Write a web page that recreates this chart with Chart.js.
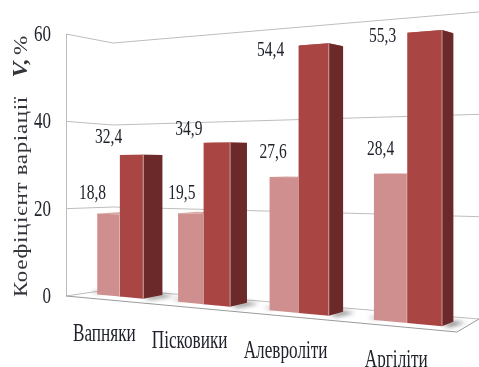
<!DOCTYPE html>
<html lang="uk">
<head>
<meta charset="utf-8">
<title>Коефіцієнт варіації</title>
<script src="https://cdn.jsdelivr.net/npm/chart.js@4"></script>
<style>
  html, body { margin: 0; padding: 0; background: #fff; }
  canvas { display: block; }
</style>
</head>
<body>
<canvas id="chart" width="479" height="367"></canvas>
<script>
// Chart values
const rockTypes = ['Вапняки', 'Пісковики', 'Алевроліти', 'Аргіліти'];
const lowerSeries = [18.8, 19.5, 27.6, 28.4];
const upperSeries = [32.4, 34.9, 54.4, 55.3];
const yTickStep = 20;
const yMax = 60;

// Hand-placed value label offsets from the top centre of each bar, in pixels
const lowerLabelShift = [[-16, -21], [-9, -20], [-11, -25], [-10, -24]];
const upperLabelShift = [[-23, -17], [-28, -13], [-43, 6], [-42, 5]];
const categoryLabelShift = [[-15.5, 38], [-14, 37], [-13, 39], [-11, 38]];

const TEXT = '#20232c';
const SERIF = '"Liberation Serif", "Times New Roman", serif';

// Perspective of the 3D scene
const VANISH = { x: 880, y: 157 };
const BAR_DEPTH = 0.026;
const perspX = u => (278.5 * u + 81.6) / (1 - 0.23 * u);
const barBaseY = x => 297.5 + 0.0925 * (x - 131);
const barUnit = x => 4.40 + 0.00308 * (x - 131);
const barPoint = (x, v) => ({ x, y: barBaseY(x) - v * barUnit(x) });
const intoDepth = (p, f) => ({ x: p.x + f * (VANISH.x - p.x), y: p.y + f * (VANISH.y - p.y) });

// Back wall of the box
const wallY = (x, v) => {
  const t = (x - 113) / 366;
  return (289 + 30 * t) - v * (4.1 + 1.017 * t);
};

function poly(ctx, pts, fill) {
  ctx.beginPath();
  pts.forEach((p, i) => i ? ctx.lineTo(p.x, p.y) : ctx.moveTo(p.x, p.y));
  ctx.closePath();
  ctx.fillStyle = fill;
  ctx.fill();
}

function stretchedText(ctx, text, x, y, size, stretch, align) {
  ctx.save();
  ctx.translate(x, y);
  ctx.scale(1, stretch);
  ctx.font = size + 'px ' + SERIF;
  ctx.fillStyle = TEXT;
  ctx.textAlign = align || 'center';
  ctx.textBaseline = 'middle';
  ctx.fillText(text, 0, 0);
  ctx.restore();
}

// Geometry of one bar element, projected into the scene
function barFaces(chart, bar) {
  const area = chart.chartArea;
  const props = bar.getProps(['x', 'y', 'width']);
  const value = chart.scales.y.getValueForPixel(props.y);
  const span = area.right - area.left;
  const x0 = perspX((props.x - props.width / 2 - area.left) / span);
  const x1 = perspX((props.x + props.width / 2 - area.left) / span);
  return {
    bl: barPoint(x0, 0), br: barPoint(x1, 0),
    tl: barPoint(x0, value), tr: barPoint(x1, value)
  };
}

function drawBars(chart, index) {
  const { ctx } = chart;
  const ds = chart.data.datasets[index];
  chart.getDatasetMeta(index).data.forEach(bar => {
    const f = barFaces(chart, bar);
    const backT = intoDepth(f.tr, BAR_DEPTH);
    const backB = intoDepth(f.br, BAR_DEPTH);
    const backL = intoDepth(f.tl, BAR_DEPTH);
    poly(ctx, [f.tl, f.tr, backT, backL], ds.topColor);
    poly(ctx, [f.tr, backT, backB, f.br], ds.sideColor);
    poly(ctx, [f.tl, f.tr, f.br, f.bl], ds.backgroundColor);
    ctx.save();
    ctx.strokeStyle = ds.edgeColor;
    ctx.lineWidth = 1;
    ctx.beginPath();
    ctx.moveTo(f.tr.x, f.tr.y);
    ctx.lineTo(f.br.x, f.br.y);
    ctx.stroke();
    ctx.restore();
  });
}

const scenePlugin = {
  id: 'scene3d',
  beforeDatasetsDraw(chart) {
    const { ctx, scales: { y: yScale }, chartArea: area } = chart;
    const left = area.left;
    const cornerX = 113, rightX = 479;

    // walls and floor
    ctx.save();
    ctx.strokeStyle = '#bdbdbd';
    ctx.lineWidth = 1;
    ctx.beginPath();
    ctx.moveTo(left + 0.5, yScale.getPixelForValue(yMax));
    ctx.lineTo(left + 0.5, yScale.getPixelForValue(0));
    yScale.ticks.forEach(t => {
      ctx.moveTo(left, yScale.getPixelForValue(t.value));
      ctx.lineTo(cornerX, wallY(cornerX, t.value));
      ctx.lineTo(rightX, wallY(rightX, t.value));
    });
    ctx.stroke();
    ctx.strokeStyle = '#9a9a9a';
    ctx.beginPath();
    ctx.moveTo(left, yScale.getPixelForValue(0));
    ctx.lineTo(457, 332);
    ctx.lineTo(rightX, wallY(rightX, 0));
    ctx.stroke();
    ctx.restore();

    // soft contact shadows on the floor
    ctx.save();
    ctx.filter = 'blur(2px)';
    chart.getDatasetMeta(1).data.forEach(bar => {
      const f = barFaces(chart, bar);
      const back = intoDepth(f.br, BAR_DEPTH);
      poly(ctx, [
        { x: f.br.x, y: f.br.y - 1 },
        { x: back.x, y: back.y - 1 },
        { x: back.x + 12, y: back.y + 1 },
        { x: f.br.x + 8, y: f.br.y + 1 }
      ], 'rgba(50,50,50,0.55)');
    });
    chart.getDatasetMeta(0).data.forEach(bar => {
      const f = barFaces(chart, bar);
      poly(ctx, [
        { x: f.bl.x - 6, y: f.bl.y - 3 },
        { x: f.bl.x + 4, y: f.bl.y - 4 },
        { x: f.bl.x + 4, y: f.bl.y - 1 },
        { x: f.bl.x - 2, y: f.bl.y - 1 }
      ], 'rgba(70,70,70,0.35)');
    });
    ctx.restore();

    // light bars first, the darker ones stand in front of their sides
    drawBars(chart, 0);
    drawBars(chart, 1);
  },
  beforeDatasetDraw() {
    return false;
  },
  afterDatasetsDraw(chart) {
    const { ctx, scales: { x: xScale, y: yScale }, chartArea: area } = chart;

    // value labels
    chart.data.datasets.forEach((ds, di) => {
      chart.getDatasetMeta(di).data.forEach((bar, i) => {
        const f = barFaces(chart, bar);
        const cx = (f.tl.x + f.tr.x) / 2;
        const cy = (f.tl.y + f.tr.y) / 2;
        const shift = ds.labelShift[i];
        const text = ds.data[i].toFixed(1).replace('.', ',');
        stretchedText(ctx, text, cx + shift[0], cy + shift[1], 15.5, 1.36);
      });
    });

    // value axis labels
    yScale.ticks.forEach(t => {
      stretchedText(ctx, String(t.value), 51, yScale.getPixelForValue(t.value) + 1, 17, 1.33, 'right');
    });

    // category labels follow the slope of the floor
    chart.data.labels.forEach((label, i) => {
      const u = (xScale.getPixelForValue(i) - area.left) / (area.right - area.left);
      const x = perspX(u);
      const shift = categoryLabelShift[i];
      stretchedText(ctx, label, x + shift[0], barBaseY(x) + shift[1], 17.2, 1.42);
    });

    // rotated axis title
    ctx.save();
    ctx.translate(21.5, 297);
    ctx.rotate(-Math.PI / 2);
    ctx.scale(1.18, 1);
    ctx.fillStyle = '#33353c';
    ctx.textBaseline = 'middle';
    ctx.textAlign = 'left';
    ctx.font = '19.5px ' + SERIF;
    ctx.letterSpacing = '0.55px';
    ctx.fillText('Коефіцієнт варіації', 0, 0);
    ctx.font = 'italic bold 20px ' + SERIF;
    ctx.fillText('V,', 186, 0);
    ctx.font = '19.5px ' + SERIF;
    ctx.fillText('%', 205, 0);
    ctx.restore();
  }
};

new Chart(document.getElementById('chart'), {
  type: 'bar',
  data: {
    labels: rockTypes,
    datasets: [
      {
        data: lowerSeries, labelShift: lowerLabelShift,
        backgroundColor: '#cf8f8e', sideColor: '#a87070', topColor: '#dba9a8', edgeColor: '#ecd9d8',
        barPercentage: 1, categoryPercentage: 0.584
      },
      {
        data: upperSeries, labelShift: upperLabelShift,
        backgroundColor: '#a94542', sideColor: '#6b2a29', topColor: '#b9605d', edgeColor: '#c99a98',
        barPercentage: 1, categoryPercentage: 0.584
      }
    ]
  },
  options: {
    responsive: false,
    animation: false,
    layout: { padding: { left: 66, right: 0, top: 34, bottom: 71 } },
    plugins: { legend: { display: false }, tooltip: { enabled: false } },
    scales: {
      x: { display: false },
      y: { display: false, min: 0, max: yMax, ticks: { stepSize: yTickStep } }
    }
  },
  plugins: [scenePlugin]
});
</script>
</body>
</html>
